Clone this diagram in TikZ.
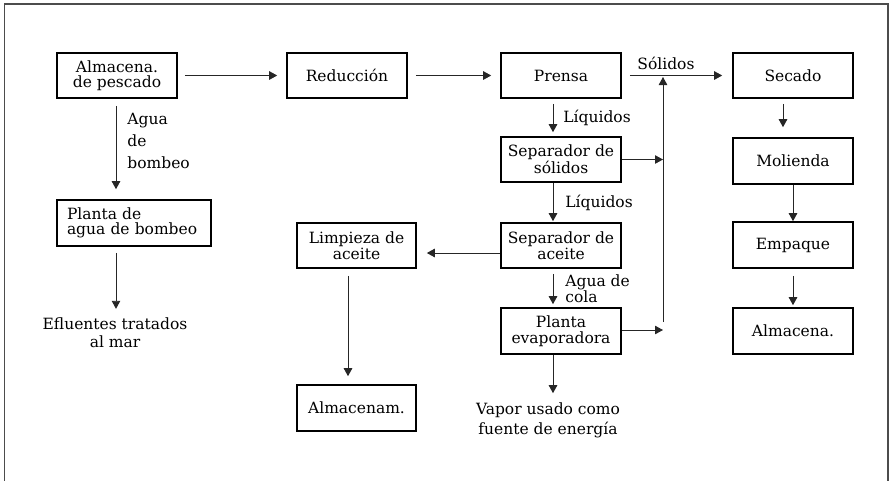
\documentclass[tikz,border=0pt]{standalone}
\usepackage{fontspec}
\setmainfont{DejaVu Serif}
\usetikzlibrary{arrows.meta}
\tikzset{
  box/.style={draw=black, line width=1.6pt, minimum width=120pt, minimum height=45pt,
    inner sep=0pt, align=center, font=\fontsize{15.5}{15.5}\selectfont},
  lbl/.style={inner sep=0pt, font=\fontsize{15.5}{17}\selectfont},
  arr/.style={draw=black!85, line width=0.9pt, -{Triangle[length=8pt,width=8.5pt]}},
  frame/.style={draw=black!70, line width=1.6pt}
}
\begin{document}
\begin{tikzpicture}[x=1pt,y=-1pt]
\useasboundingbox (0,0) rectangle (889,480);
% frame
\draw[frame] (4.5,482) -- (4.5,4) -- (888,4) -- (888,482);
% boxes
\node[box] (alm) at (117,75.5) {Almacena.\\de pescado};
\node[box] (red) at (347,75.5) {Reducción};
\node[box] (prensa) at (561,75.5) {Prensa};
\node[box] (secado) at (793,75.5) {Secado};
\node[box, minimum width=154pt, minimum height=46pt, align=left, text width=134pt] (planta) at (134,223) {Planta de\\agua de bombeo};
\node[box] (sepsol) at (561,159.5) {Separador de\\sólidos};
\node[box] (sepace) at (561,245.5) {Separador de\\aceite};
\node[box, minimum width=119pt] (limp) at (356.5,245.5) {Limpieza de\\aceite};
\node[box, minimum height=46pt] (evap) at (561,331) {Planta\\evaporadora};
\node[box, minimum width=119pt, minimum height=46pt] (almacenam) at (356.5,408) {Almacenam.};
\node[box, minimum height=46pt] (molienda) at (793,161) {Molienda};
\node[box, minimum height=46pt] (empaque) at (793,245) {Empaque};
\node[box, minimum height=46pt] (almfin) at (793,331) {Almacena.};
% free text nodes
\node[lbl, align=center, font=\fontsize{15.5}{18}\selectfont] (eflu) at (115,333) {Efluentes tratados\\al mar};
\node[lbl, align=center, font=\fontsize{15.5}{20}\selectfont] (vapor) at (548,420) {Vapor usado como\\fuente de energía};
% helper coordinates
\coordinate (cx) at (553,0);
\coordinate (ax) at (116,0);
\coordinate (lx) at (348,0);
\coordinate (sx) at (783,0);
\coordinate (lvl) at (0,253);
\coordinate (elvl) at (0,330);
\coordinate (vtop) at (663,77);
\coordinate (vbot) at (663,322);
% connectors
\draw[arr, shorten <=7pt, shorten >=9pt] (alm) -- (red);
\draw[arr, shorten <=8pt, shorten >=9pt] (red) -- (prensa);
\draw[arr, shorten <=8pt, shorten >=10pt] (prensa) -- node[lbl, above=5pt, pos=0.4] {Sólidos} (secado);
\draw[arr, shorten <=7pt, shorten >=10pt] (alm.south -| ax) -- node[lbl, right=11pt, align=left, font=\fontsize{15.5}{22}\selectfont, pos=0.42] {Agua\\de\\bombeo} (planta.north -| ax);
\draw[arr, shorten <=6pt, shorten >=9pt] (planta.south -| ax) -- (eflu.north -| ax);
\draw[arr, shorten <=5pt, shorten >=4pt] (prensa.south -| cx) -- node[lbl, anchor=west, xshift=10pt] {Líquidos} (sepsol.north -| cx);
\draw[arr, shorten >=1pt] (sepsol.south -| cx) -- node[lbl, anchor=west, xshift=12pt] {Líquidos} (sepace.north -| cx);
\draw[arr, shorten <=5pt, shorten >=3pt] (sepace.south -| cx) -- node[lbl, anchor=west, align=left, xshift=12pt, yshift=-1pt, font=\fontsize{15.5}{16}\selectfont] {Agua de\\cola} (evap.north -| cx);
\draw[arr, shorten >=9pt] (evap.south -| cx) -- (vapor.north -| cx);
\draw[arr] (sepsol.east) -- (sepsol.east -| vtop);
\draw[arr] (evap.east |- elvl) -- (vbot |- elvl);
\draw[arr] (vbot) -- (vtop);
\draw[arr, shorten >=10pt] (sepace.west |- lvl) -- (limp.east |- lvl);
\draw[arr, shorten <=7pt, shorten >=8pt] (limp.south -| lx) -- (almacenam.north -| lx);
\draw[arr, shorten <=5pt, shorten >=10pt] (secado.south -| sx) -- (molienda.north -| sx);
\draw[arr] (molienda) -- (empaque);
\draw[arr, shorten <=7pt, shorten >=2pt] (empaque) -- (almfin);
\end{tikzpicture}
\end{document}
